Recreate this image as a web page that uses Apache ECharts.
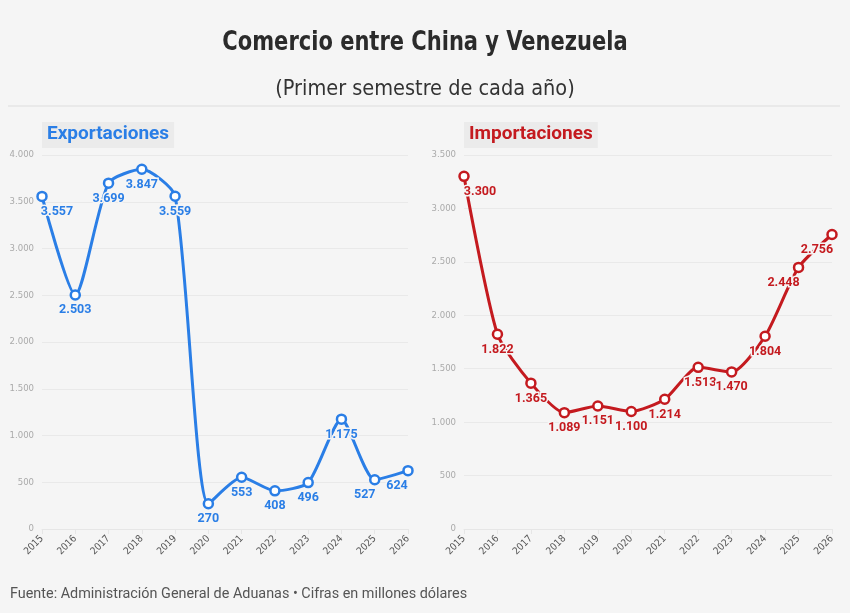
<!DOCTYPE html>
<html>
<head>
<meta charset="utf-8">
<script src="https://cdn.jsdelivr.net/npm/echarts@6/dist/echarts.min.js"></script>
<style>
  html, body { margin: 0; padding: 0; background: #f5f5f5; }
  #chart { width: 850px; height: 613px; }
</style>
</head>
<body>
<div id="chart"></div>
<script>
// años (primer semestre)
var years = ['2015', '2016', '2017', '2018', '2019', '2020', '2021', '2022', '2023', '2024', '2025', '2026'];
// millones de dólares
var exportaciones = [3557, 2503, 3699, 3847, 3559, 270, 553, 408, 496, 1175, 527, 624];
var importaciones = [3300, 1822, 1365, 1089, 1151, 1100, 1214, 1513, 1470, 1804, 2448, 2756];

// desplazamiento de cada etiqueta (todas debajo del punto)
var expLabelOff = [[15, 0], [0, 0], [0, 0], [0, 0], [0, 0], [0, 0], [0, 0], [0, 0], [0, 0], [0, 0], [-10, 0], [-11, 0]];
var impLabelOff = [[16, 0], [0, 0], [0, 0], [0, 0], [0, 0], [0, 0], [0, 0], [2, 0], [0, 0], [0, 0], [-15, 0], [-15, 0]];

var condensed = "'DejaVu Sans Condensed', Roboto, sans-serif";
var plain = "Roboto, 'Noto Sans', sans-serif";

function fmt(v) {
    return String(v).replace(/\B(?=(\d{3})+(?!\d))/g, '.');
}

function buildData(values, off) {
    return values.map(function (v, i) {
        return { value: v, label: { offset: off[i] } };
    });
}

var chart = echarts.init(document.getElementById('chart'));

var xAxisBase = {
    type: 'category',
    data: years,
    boundaryGap: false,
    axisLine: { lineStyle: { color: '#e6e6e6' } },
    axisTick: { show: true, lineStyle: { color: '#e6e6e6' } },
    axisLabel: { rotate: 45, fontSize: 10, color: '#555', fontFamily: condensed, margin: 8 }
};
var yAxisBase = {
    type: 'value',
    min: 0,
    interval: 500,
    axisLine: { show: false },
    axisTick: { show: false },
    splitLine: { lineStyle: { color: '#e9e9e9' } },
    axisLabel: { fontSize: 9.5, color: '#aaaaaa', fontFamily: condensed, formatter: fmt }
};

function serie(name, values, off, color, idx) {
    return {
        name: name,
        type: 'line',
        xAxisIndex: idx,
        yAxisIndex: idx,
        smooth: 0.22,
        data: buildData(values, off),
        symbol: 'circle',
        symbolSize: 9,
        lineStyle: { color: color, width: 3 },
        itemStyle: { color: '#ffffff', borderColor: color, borderWidth: 2.5 },
        label: {
            show: true,
            position: 'bottom',
            distance: 3,
            color: color,
            fontSize: 12.5,
            fontWeight: 'bold',
            fontFamily: plain,
            textBorderColor: '#f5f5f5',
            textBorderWidth: 3,
            formatter: function (p) { return fmt(p.value); }
        },
        z: 3
    };
}

var option = {
    backgroundColor: '#f5f5f5',
    animation: false,
    title: [
        {
            text: '(Primer semestre de cada año)',
            left: 'center',
            top: 73,
            textStyle: { fontSize: 21.5, fontWeight: 'normal', color: '#333', fontFamily: condensed }
        },
        {
            text: 'Exportaciones',
            left: 42,
            top: 122,
            padding: [3, 5, 4, 5],
            backgroundColor: '#ebebeb',
            textStyle: { fontSize: 19, fontWeight: 'bold', color: '#2a7ee6', fontFamily: plain }
        },
        {
            text: 'Importaciones',
            left: 464,
            top: 122,
            padding: [3, 5, 4, 5],
            backgroundColor: '#ebebeb',
            textStyle: { fontSize: 19, fontWeight: 'bold', color: '#c41a1f', fontFamily: plain }
        },
        {
            text: 'Fuente: Administración General de Aduanas • Cifras en millones dólares',
            left: 5,
            top: 582,
            textStyle: { fontSize: 14.4, fontWeight: 'normal', color: '#555', fontFamily: plain }
        }
    ],
    graphic: [
        {
            type: 'text',
            x: 425,
            y: 29,
            scaleX: 0.865,
            style: {
                text: 'Comercio entre China y Venezuela',
                font: "bold 27px 'DejaVu Sans Condensed', Roboto, sans-serif",
                fill: '#2b2b2b',
                textAlign: 'center',
                textVerticalAlign: 'top'
            }
        },
        { type: 'line', shape: { x1: 8, y1: 106, x2: 840, y2: 106 }, style: { stroke: '#dddddd', lineWidth: 1 } }
    ],
    grid: [
        { left: 42, right: 442, top: 155, bottom: 84 },
        { left: 464, right: 18, top: 155, bottom: 84 }
    ],
    xAxis: [
        Object.assign({ gridIndex: 0 }, xAxisBase),
        Object.assign({ gridIndex: 1 }, xAxisBase)
    ],
    yAxis: [
        Object.assign({ gridIndex: 0, max: 4000 }, yAxisBase),
        Object.assign({ gridIndex: 1, max: 3500 }, yAxisBase)
    ],
    series: [
        serie('Exportaciones', exportaciones, expLabelOff, '#2a7ee6', 0),
        serie('Importaciones', importaciones, impLabelOff, '#c41a1f', 1)
    ]
};

chart.setOption(option);
</script>
</body>
</html>
